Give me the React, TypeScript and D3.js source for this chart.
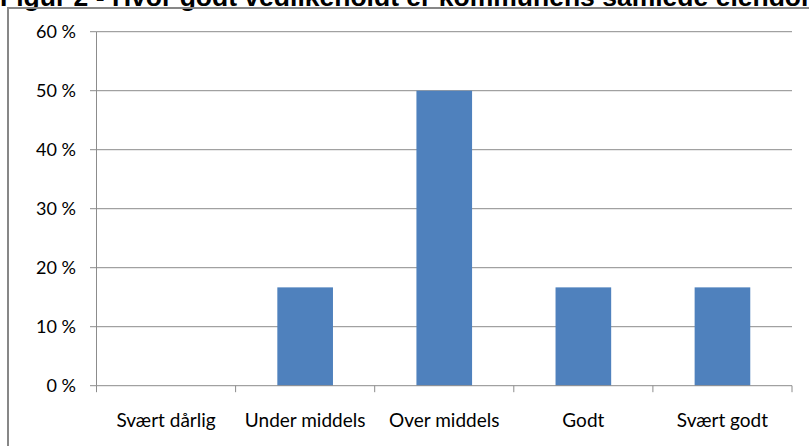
import React from "react";
import * as d3 from "d3";

// Survey answers: share of respondents per rating
const categories = ["Svært dårlig", "Under middels", "Over middels", "Godt", "Svært godt"];
const shares = [0, 1 / 6, 3 / 6, 1 / 6, 1 / 6];
const yTicks = [0, 0.1, 0.2, 0.3, 0.4, 0.5, 0.6];
const title = "Figur 2 - Hvor godt vedlikeholdt er kommunens samlede eiendomsmasse?";

const W = 809;
const H = 446;
const plot = { left: 96.5, right: 792, top: 31.7, bottom: 385.7 };
const FONT = "Lato, 'Open Sans', sans-serif";

export default function App() {
  const x = d3.scaleBand<string>().domain(categories).range([plot.left, plot.right]).paddingInner(0.6).paddingOuter(0.3);
  const xCat = d3.scaleBand<string>().domain(categories).range([plot.left, plot.right]).padding(0);
  const y = d3.scaleLinear().domain([0, 0.6]).range([plot.bottom, plot.top]);
  const fmt = (v: number) => `${Math.round(v * 100)} %`;
  const catEdges = [...categories.map((c) => xCat(c) as number), plot.right];

  return (
    <div style={{ position: "fixed", left: 0, top: 0, width: W, height: H, background: "#fff" }}>
      <svg width={W} height={H} style={{ display: "block" }}>
        <rect x={0} y={0} width={W} height={H} fill="#fff" />
        {/* heading, running off the top and right edges */}
        <text x={0} y={6} fontFamily="'Liberation Sans', Arial, sans-serif" fontWeight="bold" fontSize={26.5} fill="#000">
          {title}
        </text>
        {/* chart frame */}
        <rect x={8} y={8} width={W + 20} height={H + 20} fill="none" stroke="#878787" strokeWidth={2} />

        {/* horizontal gridlines */}
        {yTicks.slice(1).map((t) => (
          <line key={`g${t}`} x1={plot.left} x2={plot.right} y1={y(t)} y2={y(t)} stroke="#8c8c8c" strokeWidth={1} />
        ))}

        {/* bars */}
        {categories.map((c, i) => (
          <rect
            key={c}
            x={x(c)}
            y={y(shares[i])}
            width={x.bandwidth()}
            height={plot.bottom - y(shares[i])}
            fill="#4f81bd"
          />
        ))}

        {/* y axis */}
        <line x1={plot.left} x2={plot.left} y1={plot.top} y2={plot.bottom} stroke="#8c8c8c" strokeWidth={1} />
        {yTicks.map((t) => (
          <g key={`y${t}`}>
            <line x1={plot.left - 6.5} x2={plot.left} y1={y(t)} y2={y(t)} stroke="#8c8c8c" strokeWidth={1} />
            <text x={76} y={y(t)} dy="0.36em" textAnchor="end" fontFamily={FONT} fontSize={18} fill="#000">
              {fmt(t)}
            </text>
          </g>
        ))}

        {/* x axis */}
        <line x1={plot.left} x2={plot.right} y1={plot.bottom} y2={plot.bottom} stroke="#8c8c8c" strokeWidth={1} />
        {catEdges.map((e, i) => (
          <line key={`xt${i}`} x1={e} x2={e} y1={plot.bottom} y2={plot.bottom + 6.5} stroke="#8c8c8c" strokeWidth={1} />
        ))}
        {categories.map((c) => (
          <text
            key={`xl${c}`}
            x={(xCat(c) as number) + xCat.bandwidth() / 2}
            y={427}
            textAnchor="middle"
            fontFamily={FONT}
            fontSize={19}
            fill="#000"
          >
            {c}
          </text>
        ))}
      </svg>
    </div>
  );
}
